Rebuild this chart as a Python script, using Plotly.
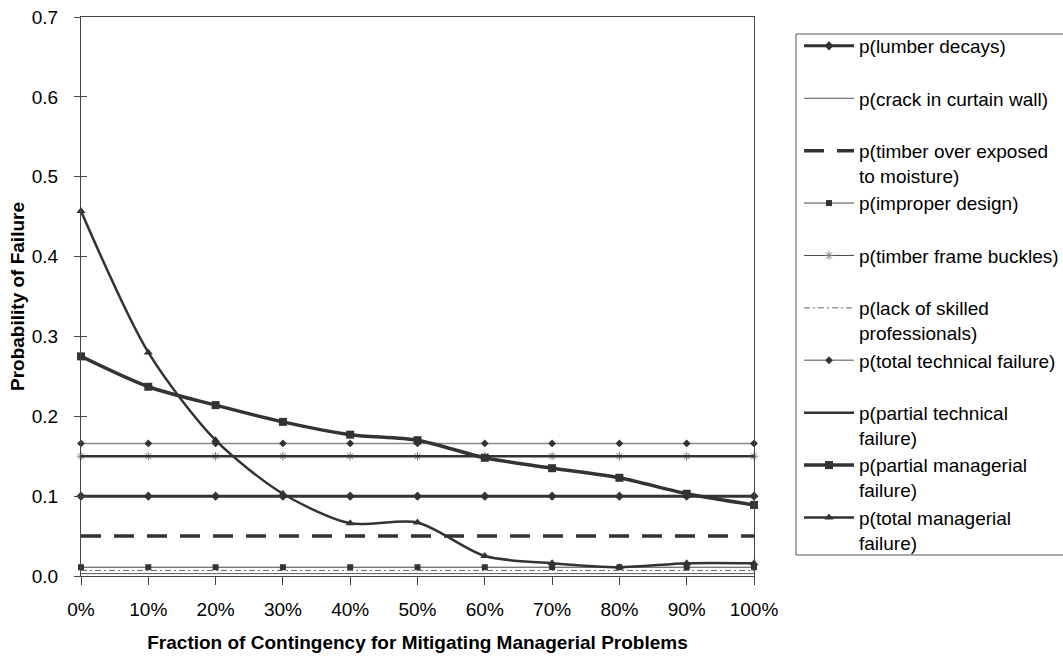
import plotly.graph_objects as go

# Fraction of contingency spent on mitigating managerial problems
categories = ["0%", "10%", "20%", "30%", "40%", "50%", "60%", "70%", "80%", "90%", "100%"]

p_lumber_decays = [0.100, 0.100, 0.100, 0.100, 0.100, 0.100, 0.100, 0.100, 0.100, 0.100, 0.100]
p_crack_curtain_wall = [0.003, 0.003, 0.003, 0.003, 0.003, 0.003, 0.003, 0.003, 0.003, 0.003, 0.003]
p_timber_moisture = [0.050, 0.050, 0.050, 0.050, 0.050, 0.050, 0.050, 0.050, 0.050, 0.050, 0.050]
p_improper_design = [0.011, 0.011, 0.011, 0.011, 0.011, 0.011, 0.011, 0.011, 0.011, 0.011, 0.011]
p_frame_buckles = [0.150, 0.150, 0.150, 0.150, 0.150, 0.150, 0.150, 0.150, 0.150, 0.150, 0.150]
p_lack_skilled = [0.007, 0.007, 0.007, 0.007, 0.007, 0.007, 0.007, 0.007, 0.007, 0.007, 0.007]
p_total_technical = [0.166, 0.166, 0.166, 0.166, 0.166, 0.166, 0.166, 0.166, 0.166, 0.166, 0.166]
p_partial_technical = [0.150, 0.150, 0.150, 0.150, 0.150, 0.150, 0.150, 0.150, 0.150, 0.150, 0.150]
p_partial_managerial = [0.275, 0.237, 0.214, 0.193, 0.177, 0.170, 0.148, 0.135, 0.123, 0.103, 0.089]
p_total_managerial = [0.457, 0.280, 0.170, 0.103, 0.066, 0.067, 0.025, 0.016, 0.011, 0.016, 0.016]

FONT = "Liberation Sans, Arial, sans-serif"
DARK = "#333333"
FS = 19

# plot area in pixels: x 81..754, y 17..576
PX_L, PX_R, PX_T, PX_B = 81, 754, 17, 576


def px_x(px):
    return (px - PX_L) / (PX_R - PX_L)


def px_y(py):
    return (PX_B - py) / (PX_B - PX_T)


fig = go.Figure()

series = [
    dict(name="p(lumber decays)<br>&nbsp;", y=p_lumber_decays,
         line=dict(color=DARK, width=3),
         marker=dict(symbol="diamond", size=7, color=DARK), mode="lines+markers"),
    dict(name="p(crack in curtain wall)<br>&nbsp;", y=p_crack_curtain_wall,
         line=dict(color="#555555", width=1), mode="lines"),
    dict(name="p(timber over exposed<br>to moisture)", y=p_timber_moisture,
         line=dict(color=DARK, width=3.5, dash="20px,13px"), mode="lines"),
    dict(name="p(improper design)<br>&nbsp;", y=p_improper_design,
         line=dict(color="#444444", width=1),
         marker=dict(symbol="square", size=6, color=DARK), mode="lines+markers"),
    dict(name="p(timber frame buckles)<br>&nbsp;", y=p_frame_buckles,
         line=dict(color="#444444", width=1),
         marker=dict(symbol="asterisk-open", size=7, color="#777777",
                     line=dict(width=1, color="#777777")), mode="lines+markers"),
    dict(name="p(lack of skilled<br>professionals)", y=p_lack_skilled,
         line=dict(color="#666666", width=1, dash="6px,3px,2px,3px"), mode="lines"),
    dict(name="p(total technical failure)<br>&nbsp;", y=p_total_technical,
         line=dict(color="#8a8a8a", width=1.5),
         marker=dict(symbol="diamond", size=6, color=DARK), mode="lines+markers"),
    dict(name="p(partial technical<br>failure)", y=p_partial_technical,
         line=dict(color=DARK, width=2.5), mode="lines"),
    dict(name="p(partial managerial<br>failure)", y=p_partial_managerial,
         line=dict(color=DARK, width=3.5, shape="spline", smoothing=0.8),
         marker=dict(symbol="square", size=8, color=DARK), mode="lines+markers"),
    dict(name="p(total managerial<br>failure)", y=p_total_managerial,
         line=dict(color=DARK, width=2.5, shape="spline", smoothing=0.8),
         marker=dict(symbol="triangle-up", size=8, color=DARK), mode="lines+markers"),
]

for i, s in enumerate(series):
    fig.add_trace(go.Scatter(x=categories, legendgroup=f"g{i}", cliponaxis=False, **s))

# invisible trace on a twin axis to carry inward y ticks (ticks cross the axis)
fig.add_trace(go.Scatter(x=categories, y=p_lumber_decays, yaxis="y2", mode="none",
                         showlegend=False, hoverinfo="skip"))

# legend frame
fig.add_shape(type="rect", xref="paper", yref="paper",
              x0=px_x(796), x1=px_x(1075), y0=px_y(555), y1=px_y(34),
              line=dict(color="#555555", width=1), fillcolor="rgba(0,0,0,0)", layer="above")

fig.update_layout(
    width=1063, height=656,
    margin=dict(l=PX_L, r=1063 - PX_R, t=PX_T, b=656 - PX_B, autoexpand=False),
    paper_bgcolor="white", plot_bgcolor="white",
    font=dict(family=FONT, size=FS, color="black"),
    showlegend=True,
    legend=dict(
        x=px_x(799), y=px_y(27), xanchor="left", yanchor="top",
        borderwidth=0, bgcolor="rgba(0,0,0,0)",
        font=dict(family=FONT, size=FS, color="black"),
        traceorder="grouped", tracegroupgap=0, valign="top", itemwidth=50,
    ),
    xaxis=dict(
        type="category", range=[0, 10], showgrid=False,
        showline=True, linecolor="#444444", linewidth=1, mirror=True,
        ticks="outside", ticklen=8, tickcolor="#444444", ticklabelstandoff=8,
        tickfont=dict(family=FONT, size=FS, color="black"),
        title=dict(text="<b>Fraction of Contingency for Mitigating Managerial Problems</b>",
                   font=dict(family=FONT, size=FS, color="black"), standoff=16),
    ),
    yaxis=dict(
        range=[0, 0.7], dtick=0.1, tickformat=".1f", showgrid=False, zeroline=False,
        showline=True, linecolor="#444444", linewidth=1, mirror=True,
        ticks="outside", ticklen=6, tickcolor="#444444", ticklabelstandoff=12,
        tickfont=dict(family=FONT, size=FS, color="black"),
        title=dict(text="<b>Probability of Failure</b>",
                   font=dict(family=FONT, size=FS, color="black"), standoff=2),
    ),
    yaxis2=dict(
        overlaying="y", matches="y", side="left", range=[0, 0.7], dtick=0.1,
        showgrid=False, zeroline=False, showticklabels=False,
        ticks="inside", ticklen=6, tickcolor="#444444",
    ),
)

fig.write_html("out.html")
